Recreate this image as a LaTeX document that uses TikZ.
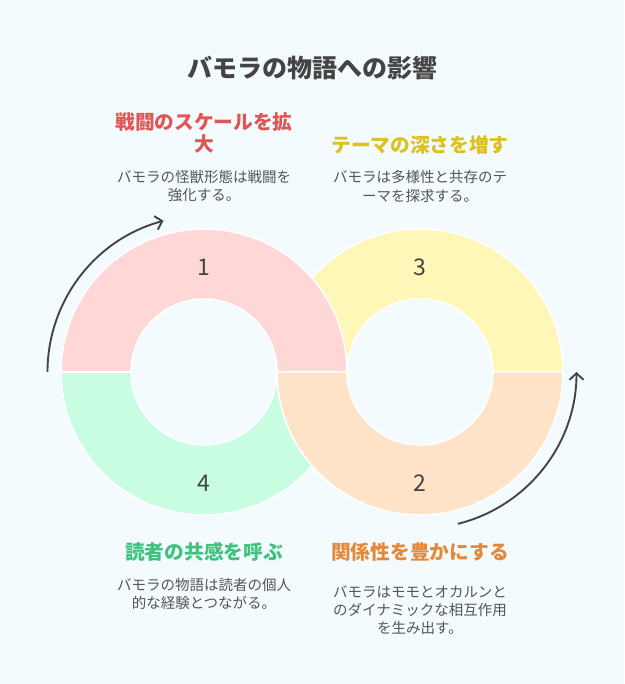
\documentclass[tikz,border=0pt]{standalone}
\usepackage{fontspec}
\setmainfont{Noto Sans CJK JP}
\usetikzlibrary{arrows.meta}
\definecolor{bgc}{HTML}{F3FBFE}
\definecolor{pinkc}{HTML}{FFD7D7}
\definecolor{yellowc}{HTML}{FFF7B8}
\definecolor{greenc}{HTML}{C8FDE2}
\definecolor{orangec}{HTML}{FFE3C9}
\definecolor{redt}{HTML}{E05555}
\definecolor{yellowt}{HTML}{DCC21A}
\definecolor{greent}{HTML}{3EC27E}
\definecolor{oranget}{HTML}{E5883A}
\definecolor{titlec}{HTML}{444444}
\definecolor{bodyc}{HTML}{555555}
\definecolor{arrc}{HTML}{444444}
\tikzset{
  seg/.style={draw=white, line width=1.5pt},
  numlab/.style={text=titlec, font=\fontsize{23}{23}\selectfont, inner sep=0pt},
  headlab/.style={font=\fontsize{19.7}{22}\selectfont\bfseries, align=center, inner sep=0pt},
  bodylab/.style={text=bodyc, font=\fontsize{14.5}{18}\selectfont, align=center, inner sep=0pt},
  cyc/.style={draw=arrc, line width=1.9pt, -{Straight Barb[length=6.5pt,width=14pt]}}
}
\begin{document}
\begin{tikzpicture}[x=1pt,y=1pt]
\fill[bgc] (0,0) rectangle (624,684);
\useasboundingbox (0,0) rectangle (624,684);
\coordinate (cL) at (204,312);
\coordinate (cR) at (420,312);
% yellow: top of right ring
\path[seg, fill=yellowc] ([shift={(0:143)}]cR) arc[start angle=0, end angle=180, radius=143]
  -- ([shift={(180:73)}]cR) arc[start angle=180, end angle=0, radius=73] -- cycle;
% green: bottom of left ring
\path[seg, fill=greenc] ([shift={(180:143)}]cL) arc[start angle=180, end angle=360, radius=143]
  -- ([shift={(0:73)}]cL) arc[start angle=360, end angle=180, radius=73] -- cycle;
% pink: top of left ring
\path[seg, fill=pinkc] ([shift={(0:143)}]cL) arc[start angle=0, end angle=180, radius=143]
  -- ([shift={(180:73)}]cL) arc[start angle=180, end angle=0, radius=73] -- cycle;
% orange: bottom of right ring
\path[seg, fill=orangec] ([shift={(180:143)}]cR) arc[start angle=180, end angle=360, radius=143]
  -- ([shift={(0:73)}]cR) arc[start angle=360, end angle=180, radius=73] -- cycle;
% numbers
\node[numlab] (n1) at (204,417) {1};
\node[numlab] (n3) at (420,417) {3};
\node[numlab] (n4) at (204,201) {4};
\node[numlab] (n2) at (420,201) {2};
% arrows
\coordinate (a1s) at ([shift={(180:156.5)}]cL);
\draw[cyc] (a1s) arc[start angle=180, end angle=105, radius=156.5];
\coordinate (a2s) at ([shift={(-76:156.5)}]cR);
\draw[cyc] (a2s) arc[start angle=-76, end angle=0, radius=156.5];
% title
\node[text=titlec, font=\fontsize{25}{28}\selectfont\bfseries, inner sep=0pt] (title) at (312,616) {バモラの物語への影響};
% headings
\node[headlab, text=redt] (h1) at (204,551.5) {戦闘のスケールを拡\\大};
\node[headlab, text=yellowt] (h3) at (420,539) {テーマの深さを増す};
\node[headlab, text=greent] (h4) at (204,132) {読者の共感を呼ぶ};
\node[headlab, text=oranget] (h2) at (420,132) {関係性を豊かにする};
% bodies
\node[bodylab] (b1) at (204,497.5) {バモラの怪獣形態は戦闘を\\強化する。};
\node[bodylab] (b3) at (420,497.5) {バモラは多様性と共存のテ\\ーマを探求する。};
\node[bodylab] (b4) at (204,90.5) {バモラの物語は読者の個人\\的な経験とつながる。};
\node[bodylab] (b2) at (420,74) {バモラはモモとオカルンと\\のダイナミックな相互作用\\を生み出す。};
\end{tikzpicture}
\end{document}
